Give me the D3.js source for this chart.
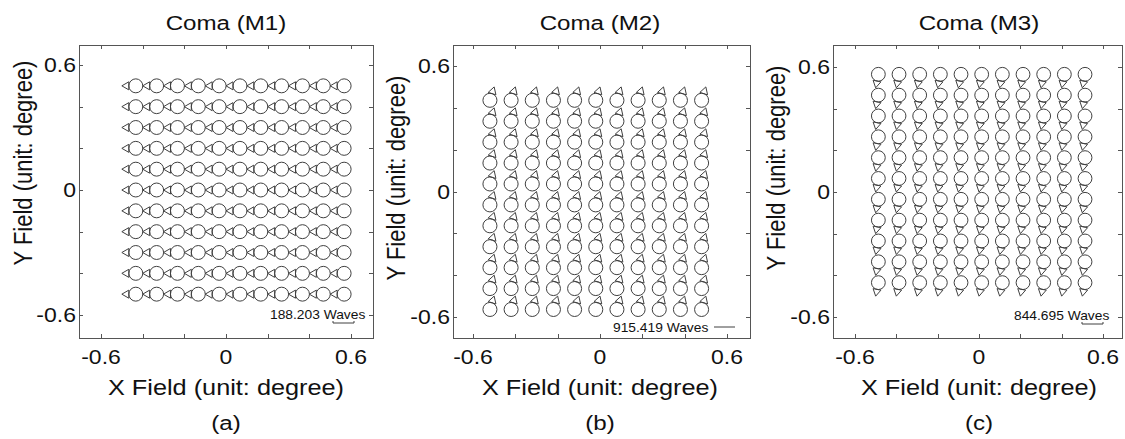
<!DOCTYPE html>
<html>
<head>
<meta charset="utf-8">
<script src="https://cdn.jsdelivr.net/npm/d3@7"></script>
<style>
  html, body { margin: 0; padding: 0; background: #fff; }
  svg { display: block; }
  text { font-family: "Liberation Sans", Arial, sans-serif; fill: #111; }
</style>
</head>
<body>
<svg id="chart" width="1125" height="439"></svg>
<script>
// Field grid sampled on each mirror (degrees)
const fieldX = [-0.5, -0.4, -0.3, -0.2, -0.1, 0, 0.1, 0.2, 0.3, 0.4, 0.5];
const fieldY = [0.5, 0.4, 0.3, 0.2, 0.1, 0, -0.1, -0.2, -0.3, -0.4, -0.5];

// Per-mirror coma: offset of the comatic circle centre from the field point (plot degrees)
const panelTitles = ["Coma (M1)", "Coma (M2)", "Coma (M3)"];
const panelTags = ["(a)", "(b)", "(c)"];
const comaDx = [0.067, -0.020, 0.013];
const comaDy = [0.0, -0.064, 0.065];
const scaleWaves = ["188.203", "915.419", "844.695"];

// Axis ticks
const tickValues = [-0.6, -0.4, -0.2, 0, 0.2, 0.4, 0.6];
const labelledTicks = [-0.6, 0, 0.6];
const tickText = ["-0.6", "0", "0.6"];

// Panel layout (pixels)
const layout = [
  { x0: 101, x1: 351, y0: 65, y1: 315, L: 79,  R: 373,  T: 45, B: 338, ylab: 32,  ymid: 163, legX: 270, legY: 319, barX: 333, barY: 323, barTicks: true },
  { x0: 473, x1: 727, y0: 66, y1: 317, L: 453, R: 750,  T: 45, B: 338, ylab: 405, ymid: 178, legX: 613, legY: 332, barX: 714, barY: 327, barTicks: false },
  { x0: 855, x1: 1103, y0: 67, y1: 317, L: 833, R: 1122, T: 45, B: 338, ylab: 785, ymid: 168, legX: 1014, legY: 320, barX: 1082, barY: 324, barTicks: true }
];
const SX = 1.15;          // horizontal stretch of the lettering
const stroke = "#404040";

const svg = d3.select("#chart");

function hText(g, x, y, str, size, anchor) {
  return g.append("text")
    .attr("transform", `translate(${x},${y}) scale(${SX},1)`)
    .attr("text-anchor", anchor || "middle")
    .attr("font-size", size)
    .text(str);
}

layout.forEach((p, i) => {
  const g = svg.append("g");
  const x = d3.scaleLinear().domain([-0.6, 0.6]).range([p.x0, p.x1]);
  const y = d3.scaleLinear().domain([0.6, -0.6]).range([p.y0, p.y1]);

  // frame
  g.append("rect")
    .attr("x", p.L + 0.5).attr("y", p.T + 0.5)
    .attr("width", p.R - p.L).attr("height", p.B - p.T)
    .attr("fill", "none").attr("stroke", "#555").attr("stroke-width", 1);

  // inward ticks on all four sides
  const tk = 4;
  const ticks = g.append("g").attr("stroke", "#555").attr("stroke-width", 1);
  tickValues.forEach(v => {
    const xv = Math.round(x(v)) + 0.5, yv = Math.round(y(v)) + 0.5;
    ticks.append("line").attr("x1", xv).attr("x2", xv).attr("y1", p.T).attr("y2", p.T + tk);
    ticks.append("line").attr("x1", xv).attr("x2", xv).attr("y1", p.B).attr("y2", p.B - tk);
    ticks.append("line").attr("y1", yv).attr("y2", yv).attr("x1", p.L).attr("x2", p.L + tk);
    ticks.append("line").attr("y1", yv).attr("y2", yv).attr("x1", p.R).attr("x2", p.R - tk);
  });

  // tick labels
  labelledTicks.forEach((v, k) => {
    hText(g, x(v), 364, tickText[k], 20, "middle");
    hText(g, p.L - 3, y(v) + 7, tickText[k], 20, "end");
  });

  // titles
  hText(g, x(0), 30, panelTitles[i], 21, "middle");
  hText(g, x(0), 395, "X Field (unit: degree)", 22, "middle");
  hText(g, x(0), 430, panelTags[i], 21, "middle");
  g.append("text")
    .attr("transform", `translate(${p.ylab},${p.ymid}) scale(${SX},1) rotate(-90)`)
    .attr("text-anchor", "middle")
    .attr("font-size", 22)
    .text("Y Field (unit: degree)");

  // coma markers: comatic circle with its 60-degree flare ending at the field point
  const pts = [];
  fieldY.forEach(fy => fieldX.forEach(fx => pts.push({ fx, fy })));
  const mk = g.append("g").attr("fill", "none").attr("stroke", stroke).attr("stroke-width", 1);
  pts.forEach(d => {
    const tx = x(d.fx), ty = y(d.fy);
    const cx = x(d.fx + comaDx[i]), cy = y(d.fy + comaDy[i]);
    const dist = Math.hypot(cx - tx, cy - ty);
    const ux = (cx - tx) / dist, uy = (cy - ty) / dist;
    const vx = -uy, vy = ux;
    const r = dist / 2;
    const bx = tx + ux * r, by = ty + uy * r;     // cone base touches the circle
    const h = r * Math.tan(Math.PI / 6);
    const path = d3.path();
    path.moveTo(tx, ty);
    path.lineTo(bx + vx * h, by + vy * h);
    path.lineTo(bx - vx * h, by - vy * h);
    path.closePath();
    mk.append("path").attr("d", path.toString());
    mk.append("circle").attr("cx", cx).attr("cy", cy).attr("r", r);
  });

  // scale legend
  hText(g, p.legX, p.legY, scaleWaves[i] + " Waves", 12, "start");
  const barLen = 21;
  const bar = d3.path();
  if (p.barTicks) {
    bar.moveTo(p.barX, p.barY - 2);
    bar.lineTo(p.barX, p.barY);
    bar.lineTo(p.barX + barLen, p.barY);
    bar.lineTo(p.barX + barLen, p.barY - 2);
  } else {
    bar.moveTo(p.barX, p.barY);
    bar.lineTo(p.barX + barLen, p.barY);
  }
  g.append("path").attr("d", bar.toString()).attr("fill", "none")
    .attr("stroke", stroke).attr("stroke-width", 1);
});
</script>
</body>
</html>
